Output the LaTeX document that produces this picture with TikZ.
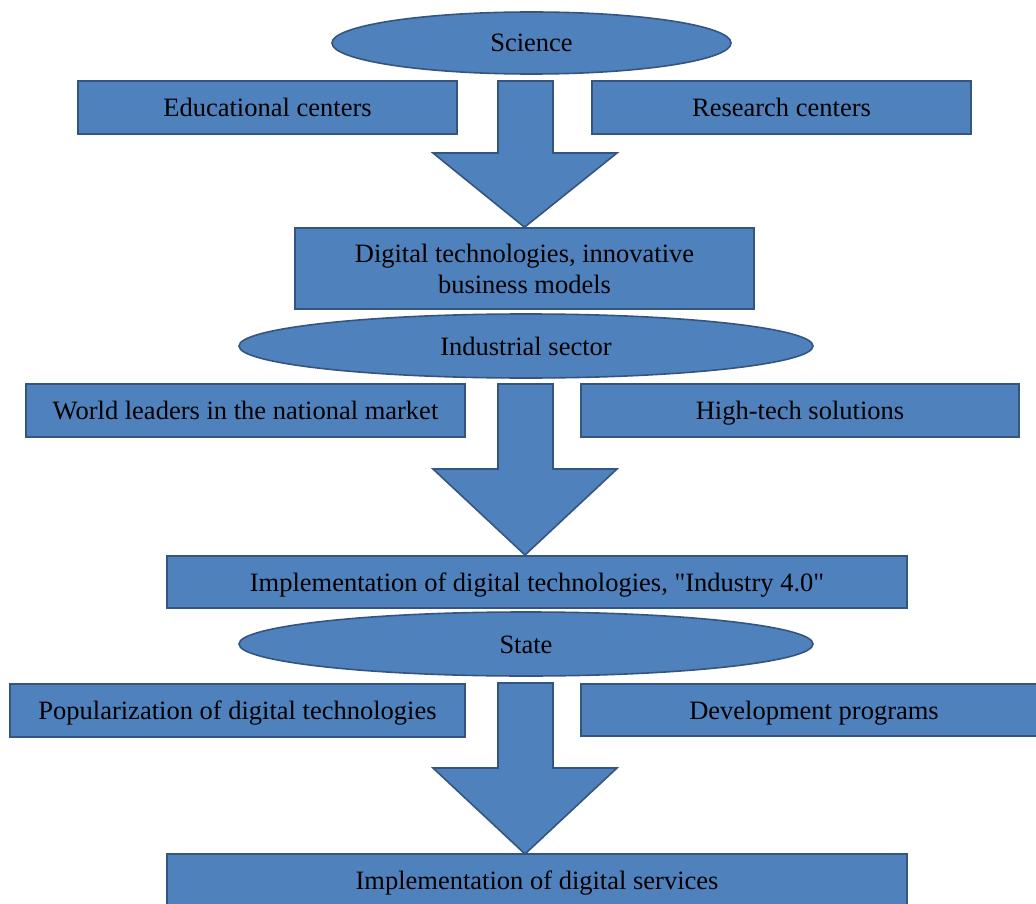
\documentclass[tikz,border=0pt]{standalone}
\usepackage{fontspec}
\setmainfont{Liberation Serif}[Ligatures=TeXOff]
\usepackage{tikz}
\usetikzlibrary{shapes}

\definecolor{bfill}{HTML}{4F81BD}
\definecolor{bdr}{HTML}{34557F}

\tikzset{
	box/.style={rectangle, draw=bdr, fill=bfill, line width=1.6pt, inner sep=0pt, align=center,
		font=\fontsize{26.5}{31}\selectfont},
	line/.style={box, text height=23pt, text depth=5pt},
	oval/.style={ellipse, draw=bdr, fill=bfill, line width=1.6pt, inner sep=0pt,
		text height=23pt, text depth=5pt, font=\fontsize{26.5}{31}\selectfont},
	barrow/.style={draw=bdr, fill=bfill, line width=1.6pt, line join=miter}
}

\begin{document}
\begin{tikzpicture}[x=1pt,y=-1pt]
		\useasboundingbox (0,0) rectangle (1036,904);
		% science
		\node[oval, minimum width=399pt, minimum height=62pt] (sci) at (531.5,43) {Science};
		\node[line, minimum width=379pt, minimum height=53pt] (edu) at (267.5,107.5) {Educational centers};
		\node[line, minimum width=379pt, minimum height=53pt] (res) at (781.5,107.5) {Research centers};
		\node[box, minimum width=459pt, minimum height=81pt] (dig) at (524.5,268.5) {Digital technologies, innovative\\business models};
		\draw[barrow] (498,81) -- (553,81) -- (553,153) -- (617,153) -- (dig.north) -- (433,153) -- (498,153) -- cycle;
		% industry
		\node[oval, minimum width=574pt, minimum height=64pt] (ind) at (526,346) {Industrial sector};
		\node[line, minimum width=439pt, minimum height=53pt] (lead) at (245.5,410.5) {World leaders in the national market};
		\node[line, minimum width=438pt, minimum height=53pt] (tech) at (800,410.5) {High-tech solutions};
		\node[line, minimum width=740pt, minimum height=52pt] (impl) at (537,582) {Implementation of digital technologies, "Industry 4.0"};
		\draw[barrow] (498,384) -- (553,384) -- (553,469) -- (617,469) -- (525,555) -- (433,469) -- (498,469) -- cycle;
		% state
		\node[oval, minimum width=574pt, minimum height=64pt] (st) at (526,644) {State};
		\node[line, minimum width=455pt, minimum height=53pt] (pop) at (237.5,710.5) {Popularization of digital technologies};
		\node[line, minimum width=466pt, minimum height=52pt] (dev) at (814,710) {Development programs};
		\node[line, minimum width=740pt, minimum height=53pt] (serv) at (537,880.5) {Implementation of digital services};
		\draw[barrow] (498,683) -- (553,683) -- (553,768) -- (617,768) -- (525,854) -- (433,768) -- (498,768) -- cycle;
\end{tikzpicture}
\end{document}
